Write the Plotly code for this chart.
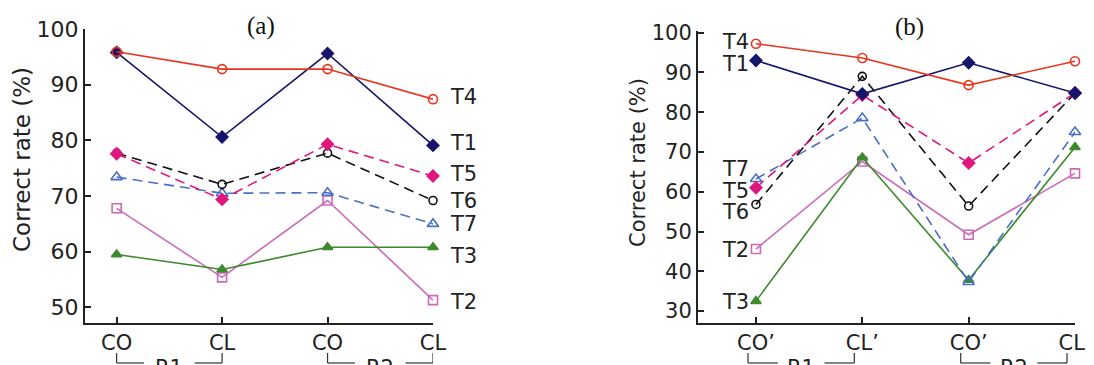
import plotly.graph_objects as go

# ---------------- data ----------------
cats_a = ["CO", "CL", "CO", "CL"]
cats_b = ["CO’", "CL’", "CO’", "CL’"]
series = ["T4", "T1", "T5", "T6", "T7", "T2", "T3"]

vals_a = {
    "T4": [95.9, 92.8, 92.8, 87.4],
    "T1": [95.8, 80.6, 95.6, 79.1],
    "T5": [77.6, 69.4, 79.3, 73.6],
    "T6": [77.7, 72.1, 77.7, 69.2],
    "T7": [73.4, 70.5, 70.6, 65.0],
    "T2": [67.8, 55.4, 69.2, 51.3],
    "T3": [59.5, 56.8, 60.8, 60.8],
}
vals_b = {
    "T4": [97.2, 93.6, 86.8, 92.8],
    "T1": [93.0, 84.6, 92.4, 84.8],
    "T5": [61.0, 84.3, 67.2, 84.8],
    "T6": [56.8, 89.0, 56.4, 84.8],
    "T7": [63.2, 78.5, 37.3, 75.0],
    "T2": [45.6, 67.6, 49.2, 64.6],
    "T3": [32.5, 68.6, 37.8, 71.2],
}
# label positions (data units)
label_y_a = {"T4": 87.8, "T1": 79.5, "T5": 74.0, "T6": 69.1, "T7": 65.0, "T3": 59.3, "T2": 51.0}
label_y_b = {"T4": 97.6, "T1": 92.0, "T7": 65.6, "T5": 60.2, "T6": 54.8, "T2": 45.4, "T3": 32.4}
regions = ["R1", "R2"]

# ---------------- styles ----------------
style = {
    "T4": dict(color="#e8341c", symbol="circle-open", dash="solid", size=9),
    "T1": dict(color="#15156a", symbol="diamond", dash="solid", size=9),
    "T5": dict(color="#e0177f", symbol="diamond", dash="10px,6px", size=9),
    "T6": dict(color="#111111", symbol="circle-open", dash="10px,6px", size=8),
    "T7": dict(color="#4a6fc4", symbol="triangle-up-open", dash="10px,6px", size=10),
    "T2": dict(color="#cc6ab8", symbol="square-open", dash="solid", size=9),
    "T3": dict(color="#3c8a2c", symbol="triangle-up", dash="solid", size=9),
}
draw_order = ["T2", "T3", "T7", "T6", "T5", "T1", "T4"]

W, H = 1094, 365
OFF = 8  # page body margin offset
FONT = "DejaVu Sans"
TXT = "#222222"

fig = go.Figure()
for key, vals, xa, ya in [("a", vals_a, "x", "y"), ("b", vals_b, "x2", "y2")]:
    for s in draw_order:
        st = style[s]
        fig.add_trace(go.Scatter(
            x=list(range(len(vals[s]))), y=vals[s], xaxis=xa, yaxis=ya,
            mode="lines+markers", cliponaxis=False, showlegend=False,
            line=dict(color=st["color"], width=1.6, dash=st["dash"]),
            marker=dict(symbol=st["symbol"], size=st["size"], color=st["color"],
                        line=dict(color=st["color"], width=1.6)),
        ))

def px_x(p):
    return (p - OFF) / W

def px_y(p):
    return 1 - (p - OFF) / H

def axis_common(fs):
    return dict(
        showline=True, linecolor="#222222", linewidth=2, showgrid=False, zeroline=False,
        ticks="inside", ticklen=6, tickwidth=1.5, tickcolor="#222222", automargin=False,
        tickfont=dict(family=FONT, size=fs, color=TXT),
    )

fig.update_layout(
    width=W, height=H, margin=dict(l=0, r=0, t=0, b=0, autoexpand=False),
    paper_bgcolor="white", plot_bgcolor="white",
    xaxis=dict(domain=[px_x(85), px_x(433)], range=[-0.3, 3.0], anchor="y",
               tickvals=[0, 1, 2, 3], ticktext=cats_a, **axis_common(21)),
    yaxis=dict(domain=[px_y(323), px_y(29)], range=[47.2, 100], anchor="x",
               tickvals=[50, 60, 70, 80, 90, 100], **axis_common(22)),
    xaxis2=dict(domain=[px_x(698), px_x(1075)], range=[-0.545, 3.0], anchor="y2",
                tickvals=[0, 1, 2, 3], ticktext=cats_b, **axis_common(21)),
    yaxis2=dict(domain=[px_y(323), px_y(31)], range=[27.0, 100.4], anchor="x2",
                tickvals=[30, 40, 50, 60, 70, 80, 90, 100], **axis_common(21)),
)

ann = []
# series labels
for s, yv in label_y_a.items():
    ann.append(dict(x=3, y=yv, xref="x", yref="y", text=s, showarrow=False,
                    xanchor="left", yanchor="middle", xshift=15,
                    font=dict(family=FONT, size=21, color=TXT)))
for s, yv in label_y_b.items():
    ann.append(dict(x=0, y=yv, xref="x2", yref="y2", text=s, showarrow=False,
                    xanchor="right", yanchor="middle", xshift=-5,
                    font=dict(family=FONT, size=21, color=TXT)))
# titles
ann.append(dict(x=px_x(261), y=px_y(26), xref="paper", yref="paper", text="(a)",
                showarrow=False, xanchor="center", yanchor="middle",
                font=dict(family="Liberation Serif", size=25, color="#111")))
ann.append(dict(x=px_x(909), y=px_y(27), xref="paper", yref="paper", text="(b)",
                showarrow=False, xanchor="center", yanchor="middle",
                font=dict(family="Liberation Serif", size=25, color="#111")))
# y titles
ann.append(dict(x=px_x(22), y=px_y(160), xref="paper", yref="paper", text="Correct rate (%)",
                textangle=-90, showarrow=False, xanchor="center", yanchor="middle",
                font=dict(family=FONT, size=23, color=TXT)))
ann.append(dict(x=px_x(638), y=px_y(163), xref="paper", yref="paper", text="Correct rate (%)",
                textangle=-90, showarrow=False, xanchor="center", yanchor="middle",
                font=dict(family=FONT, size=21, color=TXT)))

# region brackets
shapes = []
y_top, y_bot = px_y(353), px_y(363)
for xr, off, gap in [("x", 0.0, 0.24), ("x2", -0.075, 0.22)]:
    for i, r in enumerate(regions):
        x0 = 2 * i + off
        x1 = 2 * i + 1 + off
        xm = (x0 + x1) / 2
        line = dict(color="#333333", width=1.2)
        shapes += [
            dict(type="line", xref=xr, yref="paper", x0=x0, x1=x0, y0=y_top, y1=y_bot, line=line),
            dict(type="line", xref=xr, yref="paper", x0=x1, x1=x1, y0=y_top, y1=y_bot, line=line),
            dict(type="line", xref=xr, yref="paper", x0=x0, x1=xm - gap, y0=y_bot, y1=y_bot, line=line),
            dict(type="line", xref=xr, yref="paper", x0=xm + gap, x1=x1, y0=y_bot, y1=y_bot, line=line),
        ]
        ann.append(dict(x=xm, y=px_y(354), xref=xr, yref="paper", text=r, showarrow=False,
                        xanchor="center", yanchor="top",
                        font=dict(family=FONT, size=21, color=TXT)))

fig.update_layout(annotations=ann, shapes=shapes)
fig.write_html("out.html")
